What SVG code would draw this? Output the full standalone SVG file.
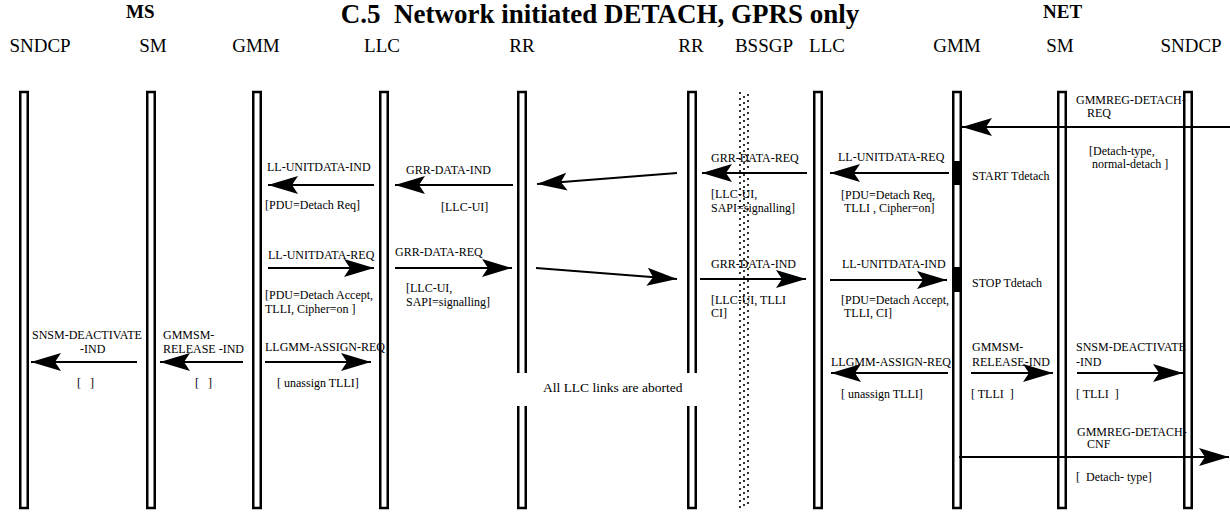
<svg xmlns="http://www.w3.org/2000/svg" width="1230" height="515" viewBox="0 0 1230 515">
<style>
.hdr{font-family:"Liberation Serif",serif;font-weight:bold;font-size:19px;fill:#000}
.title{font-family:"Liberation Serif",serif;font-weight:bold;font-size:27px;fill:#000}
.col{font-family:"Liberation Serif",serif;font-size:19px;fill:#000;text-anchor:middle}
.lbl{font-family:"Liberation Serif",serif;font-size:12px;fill:#000}
.note{font-family:"Liberation Serif",serif;font-size:13.5px;fill:#000}
.life{fill:#fff;stroke:#000;stroke-width:2.5}
.lifep{fill:none;stroke:#000;stroke-width:2.5}
.msg{stroke:#000;stroke-width:2;fill:none;marker-end:url(#ah)}
.dot{stroke:#000;stroke-width:1.6;stroke-dasharray:2 4;fill:none}
</style>
<defs>
<marker id="ah" markerUnits="userSpaceOnUse" markerWidth="32" markerHeight="22" viewBox="-31 -11 32 22" refX="0" refY="0" orient="auto" overflow="visible">
<path d="M0,0 L-30,-9 L-24,0 L-30,9 Z" fill="#000"/>
</marker>
</defs>
<rect width="1230" height="515" fill="#fff"/>
<text class="hdr" x="126" y="18">MS</text>
<text class="title" x="600" y="23" text-anchor="middle" xml:space="preserve">C.5  Network initiated DETACH, GPRS only</text>
<text class="hdr" x="1043" y="18">NET</text>

<g id="ms-sndcp"><text class="col" x="40" y="52">SNDCP</text><rect class="life" x="20.25" y="92" width="7.5" height="416"/></g>
<g id="ms-sm"><text class="col" x="153" y="52">SM</text><rect class="life" x="147.25" y="92" width="7.5" height="416"/></g>
<g id="ms-gmm"><text class="col" x="256" y="52">GMM</text><rect class="life" x="253.25" y="92" width="7.5" height="416"/></g>
<g id="ms-llc"><text class="col" x="382" y="52">LLC</text><rect class="life" x="380.25" y="92" width="7.5" height="416"/></g>
<g id="ms-rr"><text class="col" x="522" y="52">RR</text><path class="lifep" d="M518.25,373 V92 H525.75 V373 M518.25,406 V508 H525.75 V406"/></g>
<g id="net-rr"><text class="col" x="691" y="52">RR</text><path class="lifep" d="M688.25,373 V92 H695.75 V373 M688.25,406 V508 H695.75 V406"/></g>
<g id="net-bssgp"><text class="col" x="764" y="52">BSSGP</text>
<line class="dot" x1="740" y1="92" x2="740" y2="508"/>
<line class="dot" x1="744" y1="92" x2="744" y2="508" stroke-dashoffset="2"/>
<line class="dot" x1="748" y1="92" x2="748" y2="508" stroke-dashoffset="4"/>
</g>
<g id="net-llc"><text class="col" x="827" y="52">LLC</text><rect class="life" x="814.25" y="92" width="7.5" height="416"/></g>
<g id="net-gmm"><text class="col" x="957" y="52">GMM</text><rect class="life" x="953.25" y="92" width="7.5" height="416"/>
<rect x="952" y="161" width="10" height="24" fill="#000"/>
<rect x="952" y="267" width="10" height="25" fill="#000"/>
<text class="lbl" x="972" y="180">START Tdetach</text>
<text class="lbl" x="972" y="287">STOP Tdetach</text>
</g>
<g id="net-sm"><text class="col" x="1060" y="52">SM</text><rect class="life" x="1058.25" y="92" width="7.5" height="416"/></g>
<g id="net-sndcp"><text class="col" x="1191" y="52">SNDCP</text><rect class="life" x="1184.25" y="92" width="7.5" height="416"/></g>

<g id="note"><text class="note" x="543" y="392">All LLC links are aborted</text></g>

<g id="connectors">
<g><text class="lbl" x="1076" y="104">GMMREG-DETACH-</text><text class="lbl" x="1087" y="117">REQ</text>
<line class="msg" x1="1230" y1="127" x2="962" y2="127"/>
<text class="lbl" x="1089" y="155">[Detach-type,</text><text class="lbl" x="1092" y="168">normal-detach ]</text></g>

<g><text class="lbl" x="838" y="161">LL-UNITDATA-REQ</text>
<line class="msg" x1="949" y1="173" x2="830" y2="173"/>
<text class="lbl" x="841" y="199">[PDU=Detach Req,</text><text class="lbl" x="844" y="212">TLLI , Cipher=on]</text></g>

<g><text class="lbl" x="711" y="162">GRR-DATA-REQ</text>
<line class="msg" x1="807" y1="173" x2="702" y2="173"/>
<text class="lbl" x="711" y="198">[LLC-UI,</text><text class="lbl" x="711" y="212">SAPI=signalling]</text></g>

<line class="msg" x1="677" y1="173" x2="537" y2="184"/>

<g><text class="lbl" x="406" y="174">GRR-DATA-IND</text>
<line class="msg" x1="513" y1="185" x2="395" y2="185"/>
<text class="lbl" x="441" y="211">[LLC-UI]</text></g>

<g><text class="lbl" x="267" y="171">LL-UNITDATA-IND</text>
<line class="msg" x1="374" y1="185" x2="268" y2="185"/>
<text class="lbl" x="265" y="209">[PDU=Detach Req]</text></g>

<g><text class="lbl" x="268" y="259">LL-UNITDATA-REQ</text>
<line class="msg" x1="268" y1="268" x2="374" y2="268"/>
<text class="lbl" x="265" y="299">[PDU=Detach Accept,</text><text class="lbl" x="265" y="313">TLLI, Cipher=on ]</text></g>

<g><text class="lbl" x="395" y="256">GRR-DATA-REQ</text>
<line class="msg" x1="395" y1="268" x2="512" y2="268"/>
<text class="lbl" x="406" y="292">[LLC-UI,</text><text class="lbl" x="406" y="306">SAPI=signalling]</text></g>

<line class="msg" x1="536" y1="268" x2="677" y2="279"/>

<g><text class="lbl" x="711" y="268">GRR-DATA-IND</text>
<line class="msg" x1="700" y1="279" x2="806" y2="279"/>
<text class="lbl" x="711" y="304">[LLC-UI, TLLI</text><text class="lbl" x="711" y="317">CI]</text></g>

<g><text class="lbl" x="842" y="268">LL-UNITDATA-IND</text>
<line class="msg" x1="830" y1="280" x2="947" y2="280"/>
<text class="lbl" x="841" y="304">[PDU=Detach Accept,</text><text class="lbl" x="844" y="317">TLLI, CI]</text></g>

<g><text class="lbl" x="32" y="339">SNSM-DEACTIVATE</text><text class="lbl" x="80" y="353">-IND</text>
<line class="msg" x1="137" y1="362" x2="31" y2="362"/>
<text class="lbl" x="77" y="387" xml:space="preserve">[   ]</text></g>

<g><text class="lbl" x="163" y="339">GMMSM-</text><text class="lbl" x="163" y="353">RELEASE -IND</text>
<line class="msg" x1="243" y1="362" x2="160" y2="362"/>
<text class="lbl" x="195" y="387" xml:space="preserve">[   ]</text></g>

<g><text class="lbl" x="265" y="351">LLGMM-ASSIGN-REQ</text>
<line class="msg" x1="265" y1="362" x2="371" y2="362"/>
<text class="lbl" x="277" y="387">[ unassign TLLI]</text></g>

<g><text class="lbl" x="831" y="366">LLGMM-ASSIGN-REQ</text>
<line class="msg" x1="948" y1="373" x2="831" y2="373"/>
<text class="lbl" x="841" y="398">[ unassign TLLI]</text></g>

<g><text class="lbl" x="972" y="351">GMMSM-</text><text class="lbl" x="972" y="366">RELEASE-IND</text>
<line class="msg" x1="971" y1="373" x2="1053" y2="373"/>
<text class="lbl" x="971" y="398" xml:space="preserve">[ TLLI  ]</text></g>

<g><text class="lbl" x="1076" y="351">SNSM-DEACTIVATE</text><text class="lbl" x="1076" y="366">-IND</text>
<line class="msg" x1="1077" y1="373" x2="1183" y2="373"/>
<text class="lbl" x="1076" y="398" xml:space="preserve">[ TLLI  ]</text></g>

<g><text class="lbl" x="1077" y="436">GMMREG-DETACH-</text><text class="lbl" x="1087" y="448">CNF</text>
<line class="msg" x1="959" y1="457" x2="1229" y2="457"/>
<text class="lbl" x="1076" y="481" xml:space="preserve">[  Detach- type]</text></g>
</g>
</svg>
